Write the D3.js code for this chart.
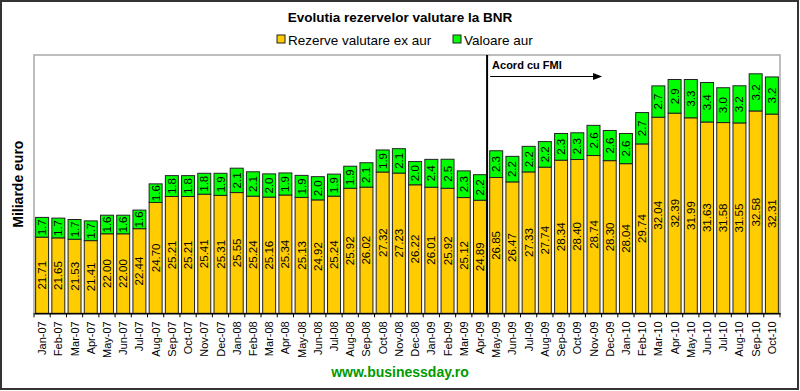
<!DOCTYPE html>
<html><head><meta charset="utf-8">
<script src="https://cdn.jsdelivr.net/npm/d3@7"></script>
<style>body{margin:0;background:#fff}svg{display:block;font-family:"Liberation Sans",Arial,sans-serif}</style>
</head><body><svg id="c" width="800" height="391"></svg>
<script>
const months = ["Jan-07","Feb-07","Mar-07","Apr-07","May-07","Jun-07","Jul-07","Aug-07","Sep-07","Oct-07","Nov-07","Dec-07",
"Jan-08","Feb-08","Mar-08","Apr-08","May-08","Jun-08","Jul-08","Aug-08","Sep-08","Oct-08","Nov-08","Dec-08",
"Jan-09","Feb-09","Mar-09","Apr-09","May-09","Jun-09","Jul-09","Aug-09","Sep-09","Oct-09","Nov-09","Dec-09",
"Jan-10","Feb-10","Mar-10","Apr-10","May-10","Jun-10","Jul-10","Aug-10","Sep-10","Oct-10"];
const reserves = [21.71,21.65,21.53,21.41,22.00,22.00,22.44,24.70,25.21,25.21,25.41,25.31,
25.55,25.24,25.16,25.34,25.13,24.92,25.24,25.92,26.02,27.32,27.23,26.22,
26.01,25.92,25.12,24.89,26.85,26.47,27.33,27.74,28.34,28.40,28.74,28.30,
28.04,29.74,32.04,32.39,31.99,31.63,31.58,31.55,32.58,32.31];
const gold = [1.7,1.7,1.7,1.7,1.6,1.6,1.6,1.6,1.8,1.8,1.8,1.9,
2.1,2.1,2.0,1.9,1.9,2.0,1.9,1.9,2.1,1.9,2.1,2.0,
2.4,2.5,2.3,2.2,2.3,2.2,2.2,2.2,2.3,2.3,2.6,2.6,
2.6,2.7,2.7,2.9,3.3,3.4,3.0,3.2,3.2,3.2];
const seriesNames = ["Rezerve valutare ex aur","Valoare aur"];
const yDomain = [15.15, 37.4];
const markerMonth = "May-09";
const title = "Evolutia rezervelor valutare la BNR";
const yTitle = "Miliarde euro";
const note = "Acord cu FMI";
const footer = "www.businessday.ro";

const colors = ["#FFCC00","#00FF00"];
const svg = d3.select("#c");
const L = 34, R = 780, T = 55, B = 313.3;

svg.append("rect").attr("x",1).attr("y",1).attr("width",797).attr("height",388)
  .attr("fill","#fff").attr("stroke","#333").attr("stroke-width",2);

const x = d3.scaleBand().domain(months).range([L,R]).paddingInner(0.2).paddingOuter(0.1);
const y = d3.scaleLinear().domain(yDomain).range([B,T]);

// plot frame
svg.append("rect").attr("x",L).attr("y",T).attr("width",R-L).attr("height",B-T)
  .attr("fill","none").attr("stroke","#a8a8a8").attr("stroke-width",1.5);

const data = months.map((m,i)=>({m, r:reserves[i], g:gold[i]}));
const gB = svg.append("g");
gB.selectAll(".ry").data(data).join("rect")
  .attr("x",d=>x(d.m)).attr("width",x.bandwidth())
  .attr("y",d=>y(d.r)).attr("height",d=>B-y(d.r))
  .attr("fill",colors[0]).attr("stroke","#222").attr("stroke-width",1);
gB.selectAll(".gy").data(data).join("rect")
  .attr("x",d=>x(d.m)).attr("width",x.bandwidth())
  .attr("y",d=>y(d.r+d.g)).attr("height",d=>y(d.r)-y(d.r+d.g))
  .attr("fill",colors[1]).attr("stroke","#222").attr("stroke-width",1);

// labels
const lab = svg.append("g").attr("font-size",11.5).attr("fill","#000");
lab.selectAll(".lr").data(data).join("text")
  .attr("transform",d=>`translate(${x(d.m)+x.bandwidth()/2+4},${(y(d.r)+B)/2}) rotate(-90)`)
  .attr("text-anchor","middle").text(d=>d.r.toFixed(2));
lab.selectAll(".lg").data(data).join("text")
  .attr("transform",d=>`translate(${x(d.m)+x.bandwidth()/2+4},${(y(d.r)+y(d.r+d.g))/2}) rotate(-90)`)
  .attr("text-anchor","middle").text(d=>d.g.toFixed(1));

// x axis
const ax = svg.append("g").attr("transform",`translate(0,${B})`)
  .call(d3.axisBottom(x).tickSize(0).tickFormat(""));
ax.select(".domain").attr("stroke","#000").attr("stroke-width",1.5);
const step = x.step();
svg.append("g").selectAll("line").data(d3.range(months.length+1)).join("line")
  .attr("x1",i=>L+i*step).attr("x2",i=>L+i*step).attr("y1",B).attr("y2",B+4)
  .attr("stroke","#000");
svg.append("g").attr("font-size",11).selectAll("text").data(months).join("text")
  .attr("transform",d=>`translate(${x(d)+x.bandwidth()/2+4},${B+8}) rotate(-90)`)
  .attr("text-anchor","end").text(d=>d);

// marker line
const mx = x(markerMonth) - (step - x.bandwidth())/2 - 1;
svg.append("line").attr("x1",mx).attr("x2",mx).attr("y1",T).attr("y2",B)
  .attr("stroke","#000").attr("stroke-width",2);
svg.append("text").attr("x",mx+5).attr("y",69).attr("font-size",11).attr("font-weight","bold").text(note);
svg.append("line").attr("x1",mx+3).attr("x2",mx+108).attr("y1",76.5).attr("y2",76.5).attr("stroke","#000").attr("stroke-width",1);
svg.append("path").attr("d",`M${mx+115},76.5 L${mx+106},73 L${mx+106},80 Z`).attr("fill","#000");

// titles
svg.append("text").attr("x",400).attr("y",22).attr("text-anchor","middle")
  .attr("font-size",13.5).attr("font-weight","bold").text(title);
svg.append("text").attr("transform",`translate(23,${(T+B)/2}) rotate(-90)`)
  .attr("text-anchor","middle").attr("font-size",14).attr("font-weight","bold").text(yTitle);
svg.append("text").attr("x",400).attr("y",377).attr("text-anchor","middle")
  .attr("font-size",14).attr("font-weight","bold").attr("fill","#009900").text(footer);

// legend
const lg = svg.append("g").attr("font-size",13.5);
const lx = [277, 453];
seriesNames.forEach((s,i)=>{
  lg.append("rect").attr("x",lx[i]).attr("y",35).attr("width",8).attr("height",8)
    .attr("fill",colors[i]).attr("stroke","#222");
  lg.append("text").attr("x",lx[i]+11).attr("y",44.5).text(s);
});
</script></body></html>
